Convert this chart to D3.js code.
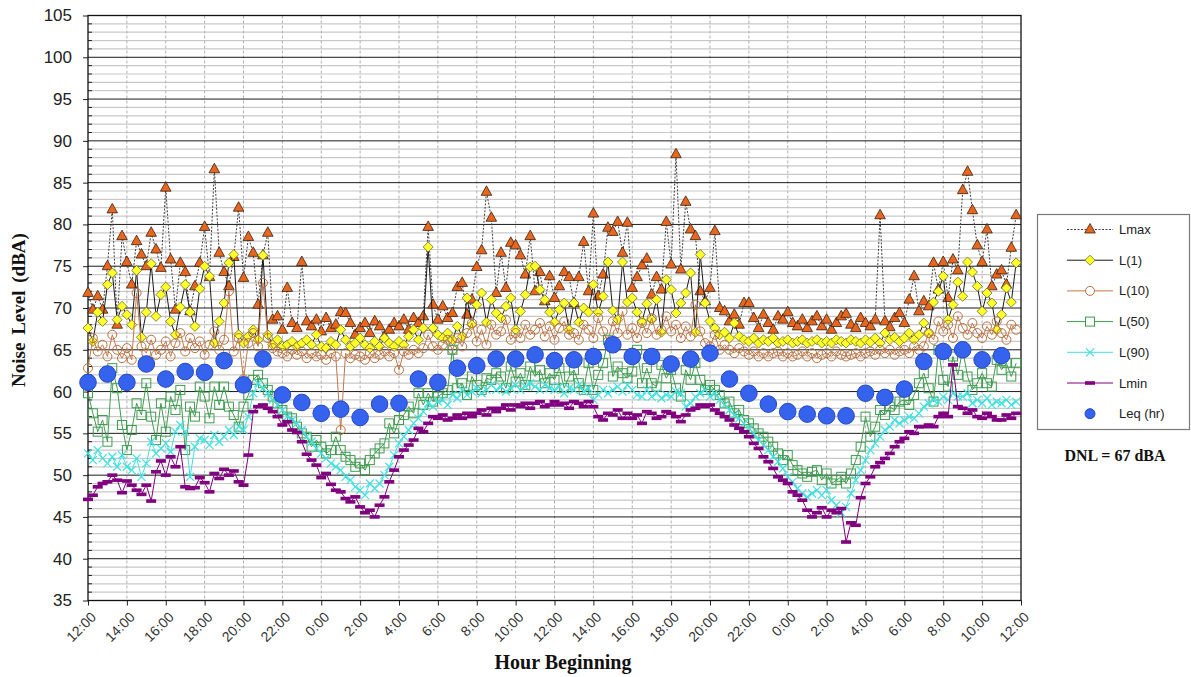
<!DOCTYPE html>
<html><head><meta charset="utf-8">
<script src="https://cdn.jsdelivr.net/npm/d3@7"></script>
<style>
body{margin:0;background:#fff;}
svg{display:block;}
</style></head><body>
<svg id="chart" width="1191" height="677"></svg>
<script>
// ---- DATA (15-minute intervals, 48 hours starting 12:00) ----
const xTickLabels = ["12:00","14:00","16:00","18:00","20:00","22:00","0:00","2:00","4:00","6:00","8:00","10:00",
  "12:00","14:00","16:00","18:00","20:00","22:00","0:00","2:00","4:00","6:00","8:00","10:00","12:00"];
const yTicks = [35,40,45,50,55,60,65,70,75,80,85,90,95,100,105];
const seriesNames = ["Lmax","L(1)","L(10)","L(50)","L(90)","Lmin","Leq (hr)"];
const dnlLabel = "DNL = 67 dBA";
const xTitle = "Hour Beginning";
const yTitle = "Noise Level (dBA)";

const lmax = [
71.8,69.8,71.4,69.8, 75.0,81.8,68.0,78.6, 75.5,72.8,78.0,76.4, 75.0,79.0,77.0,74.8,
84.4,75.8,69.8,75.4, 74.3,69.6,72.6,75.4, 79.7,73.7,86.6,76.6, 74.3,72.6,76.1,82.0,
73.6,78.5,76.6,70.4, 76.3,79.0,68.6,69.0, 67.4,72.4,68.2,67.6, 75.5,68.4,67.8,68.6,
67.2,68.8,67.6,68.0, 69.5,69.4,68.2,66.8, 67.6,68.2,67.0,68.4, 67.8,66.6,67.4,68.2,
67.8,68.6,67.4,68.8, 68.2,69.0,79.7,70.4, 68.6,70.2,68.8,69.4, 72.5,73.0,69.2,71.0,
74.9,76.9,83.9,80.8, 71.8,76.6,72.4,77.8, 77.5,76.3,74.0,78.6, 72.0,74.3,70.8,73.8,
71.2,72.6,74.3,73.7, 70.6,73.7,77.9,72.0, 81.3,71.4,74.0,79.6, 79.1,80.3,76.6,80.2,
72.4,73.7,75.1,75.9, 71.6,73.7,72.2,80.3, 75.2,88.4,74.6,82.7, 79.4,78.6,72.0,70.8,
72.4,79.2,70.0,69.6, 68.4,69.2,68.0,70.6, 70.6,68.8,67.6,69.2, 68.2,67.4,69.0,68.6,
69.5,68.2,67.8,68.6, 67.6,68.4,69.0,67.8, 68.6,67.4,68.2,69.0, 69.3,68.0,67.6,68.8,
68.2,67.8,68.6,81.1, 68.4,67.7,68.8,69.4, 68.2,71.0,73.8,69.6, 70.8,70.2,75.4,72.2,
75.5,71.2,75.8,74.5, 84.1,86.3,81.7,77.5, 75.5,79.4,72.6,74.0, 74.5,72.8,77.2,81.1];

const l1 = [
67.6,66.0,69.5,68.4, 72.8,74.2,68.6,70.2, 69.2,68.0,74.5,66.5, 69.5,75.3,69.0,71.6,
72.5,68.4,66.8,70.1, 72.8,69.5,67.8,72.3, 75.0,73.8,65.8,68.4, 70.6,75.4,76.4,66.8,
65.8,66.6,67.4,66.2, 76.3,66.8,65.6,66.2, 65.4,65.6,66.0,65.4, 65.8,66.2,65.6,66.8,
65.4,65.2,66.0,65.6, 67.4,66.2,65.4,65.8, 66.4,65.6,65.2,66.0, 65.4,66.4,65.8,65.4,
66.0,65.6,66.6,67.4, 66.2,67.6,77.3,67.6, 66.8,66.4,67.0,66.2, 67.8,66.6,71.2,68.0,
70.4,71.8,68.3,71.0, 69.4,68.8,70.2,71.2, 67.4,69.6,71.6,74.9, 75.0,72.2,71.0,69.5,
68.3,69.8,70.6,67.4, 70.6,68.3,70.0,69.5, 72.8,69.5,71.4,75.5, 69.7,68.6,75.5,70.7,
71.2,69.5,68.4,70.5, 68.6,71.0,67.1,73.4, 72.2,69.4,70.6,71.8, 74.2,67.1,76.4,70.6,
68.4,67.6,66.8,67.1, 66.4,68.2,66.6,66.2, 66.0,66.4,65.8,66.2, 66.0,66.4,65.8,66.0,
66.2,65.8,66.0,66.2, 65.8,66.0,66.2,65.8, 66.0,65.8,66.2,66.0, 65.8,66.2,66.0,65.8,
66.2,65.9,66.4,65.8, 67.0,66.2,66.5,66.0, 66.4,67.0,66.2,66.8, 68.2,67.0,70.7,72.0,
73.8,68.6,70.4,73.1, 71.4,75.5,74.3,72.6, 69.6,71.8,70.6,67.4, 69.2,72.4,70.7,75.4];

const l10 = [
62.8,66.4,64.8,65.6, 64.2,66.8,65.0,64.0, 65.2,63.8,71.8,65.4, 64.6,66.2,64.4,65.0,
66.0,64.2,65.8,67.0, 64.8,66.4,65.2,66.0, 64.4,65.6,67.2,65.0, 66.2,72.0,64.8,66.4,
61.5,65.8,67.0,65.4, 73.0,66.4,65.2,64.8, 64.6,64.2,65.0,64.4, 64.8,64.0,64.6,64.2,
64.4,63.8,64.6,64.2, 55.4,64.6,64.0,64.4, 64.2,63.8,64.6,64.0, 64.4,64.8,64.2,64.6,
62.6,64.8,64.4,65.0, 64.6,65.2,66.8,65.4, 65.0,65.6,66.2,65.0, 66.4,65.4,67.0,68.2,
66.0,67.4,65.6,68.0, 66.8,67.2,68.6,66.2, 67.0,66.4,68.0,66.8, 67.4,68.2,66.6,67.8,
66.2,67.6,68.4,66.8, 67.0,66.2,68.0,67.4, 66.4,68.8,67.2,66.0, 68.4,67.0,69.6,66.8,
67.6,66.4,68.2,67.0, 68.8,66.8,67.4,69.0, 67.2,68.0,66.4,67.8, 66.6,70.4,67.2,65.8,
65.4,66.8,65.0,65.6, 65.0,64.6,65.2,64.8, 64.4,64.8,64.2,64.6, 64.2,64.6,64.8,64.2,
64.6,64.2,64.4,64.8, 64.2,64.6,64.0,64.4, 64.6,64.2,64.8,64.4, 64.2,64.4,64.6,64.2,
64.6,64.8,64.4,65.0, 64.6,65.0,64.4,64.8, 65.0,64.6,65.4,65.0, 65.4,67.0,66.2,68.4,
67.2,68.0,66.4,69.0, 67.6,66.8,68.2,67.0, 66.4,67.8,66.8,68.4, 67.0,66.2,68.0,67.4];

const l50 = [
59.8,57.4,55.2,56.6, 54.0,62.8,60.4,56.0, 53.0,55.4,58.6,57.2, 61.0,57.0,54.2,58.6,
55.2,59.4,57.8,60.2, 53.0,58.2,57.0,60.6, 59.4,56.8,60.6,58.4, 60.6,58.2,57.2,55.8,
58.2,59.6,61.4,62.0, 61.0,60.2,59.4,58.6, 57.8,57.0,56.8,55.8, 55.0,54.6,53.4,54.2,
53.4,52.6,53.0,54.6, 53.0,52.2,51.8,51.0, 51.4,50.6,51.8,52.6, 53.2,53.8,56.2,55.0,
56.6,57.2,58.2,57.4, 59.8,58.4,59.8,58.8, 59.4,59.8,60.2,65.0, 60.4,61.0,59.6,61.8,
60.8,60.2,61.6,61.4, 62.2,61.8,60.4,63.0, 61.2,62.2,60.8,63.0, 61.8,62.6,61.0,62.2,
61.4,62.8,60.4,61.8, 62.6,61.0,60.2,63.4, 60.2,62.0,63.4,66.2, 61.8,63.0,62.2,61.6,
62.4,65.0,61.0,62.8, 61.0,60.6,63.2,61.6, 62.6,60.4,59.4,62.6, 61.4,63.4,61.4,60.2,
60.8,60.2,59.6,58.6, 58.8,57.4,57.8,56.6, 56.2,55.6,55.0,54.6, 54.0,53.4,52.6,51.8,
52.4,51.2,50.6,50.2, 49.8,50.4,50.6,49.4, 50.2,49.0,49.4,49.8, 49.0,50.2,51.8,53.4,
57.0,54.6,55.8,57.8, 57.2,58.2,57.8,58.8, 59.0,58.4,59.6,61.0, 62.2,60.4,58.8,65.0,
61.4,60.6,64.2,62.0, 65.0,61.8,60.2,61.0, 62.2,61.0,60.6,63.8, 62.6,63.4,61.8,63.4];

const l90 = [
52.6,51.8,53.0,52.0, 51.4,52.2,51.0,52.4, 51.0,50.6,52.0,49.8, 51.4,54.0,52.6,53.2,
53.8,52.8,55.2,56.0, 55.2,49.8,53.4,54.4, 54.2,53.6,54.8,54.0, 54.6,55.4,54.8,55.8,
55.4,57.0,59.8,61.0, 60.4,59.8,59.0,58.4, 57.8,57.0,56.6,56.2, 55.4,54.6,54.0,53.2,
52.6,52.0,51.4,51.0, 50.6,49.8,49.4,48.6, 48.2,47.6,49.0,48.4, 49.0,50.0,51.0,52.4,
53.8,54.6,55.4,56.2, 56.8,57.6,58.6,58.2, 58.8,59.0,58.4,59.6, 59.2,60.2,59.6,60.0,
60.4,59.8,60.2,60.8, 60.2,60.6,60.0,60.4, 60.8,60.2,60.6,61.0, 60.6,60.2,60.8,60.4,
60.2,60.6,59.8,60.4, 60.2,60.8,60.0,60.4, 59.0,59.6,60.2,59.8, 60.2,60.6,60.0,60.8,
60.2,59.6,59.4,60.2, 59.4,59.8,59.2,59.6, 59.4,60.0,59.8,58.2, 58.6,59.4,59.8,60.2,
59.4,59.8,59.0,58.4, 57.8,57.2,56.8,56.2, 55.6,55.0,54.2,53.6, 53.0,52.2,51.6,50.8,
49.8,49.2,48.4,47.8, 47.4,47.8,48.2,47.6, 48.2,47.0,46.4,45.5, 46.2,47.8,49.4,50.6,
51.8,53.0,53.8,54.6, 55.4,55.8,56.6,56.2, 56.6,57.0,56.8,57.4, 58.2,58.6,59.0,58.8,
59.4,59.0,59.8,59.4, 59.4,59.8,58.6,59.0, 58.6,59.2,58.4,58.8, 58.6,59.0,58.4,58.8];

const lmin = [
47.1,47.6,48.6,49.0, 49.2,50.0,49.4,47.9, 49.3,48.8,48.2,47.7, 48.8,46.9,50.4,51.7,
50.0,52.2,51.0,53.4, 48.6,48.4,48.5,49.7, 49.1,48.0,50.2,49.6, 50.7,50.0,50.5,49.2,
48.8,52.4,57.6,58.2, 58.4,58.0,57.6,57.0, 56.0,56.4,55.4,55.1, 54.0,52.5,51.8,51.2,
49.7,50.2,48.9,48.2, 48.0,47.2,46.8,47.4, 46.2,45.5,45.8,45.0, 46.4,47.4,49.2,50.6,
52.2,53.0,53.6,54.2, 55.6,55.2,56.2,57.0, 56.8,57.2,56.6,56.8, 57.2,56.8,57.4,57.0,
57.4,57.8,57.2,58.0, 57.6,58.0,58.4,57.8, 58.4,58.2,58.6,58.0, 58.6,58.8,58.2,58.4,
58.8,58.4,58.6,58.0, 58.8,58.6,58.2,58.8, 58.2,57.0,56.6,57.4, 57.2,57.8,56.8,57.4,
56.8,57.2,56.2,57.6, 57.4,56.8,57.0,57.6, 57.4,57.0,56.4,57.2, 57.8,58.0,58.4,58.2,
58.4,57.8,57.4,57.0, 56.6,56.0,55.6,55.2, 54.6,53.8,53.2,52.2, 51.6,50.8,49.8,49.4,
49.0,48.0,47.6,47.0, 45.8,45.0,45.5,46.1, 45.0,45.8,45.5,46.0, 42.0,44.3,44.0,47.3,
49.0,49.8,51.0,51.5, 52.0,52.6,53.4,54.0, 54.4,55.2,55.0,55.8, 55.8,56.0,55.8,57.0,
57.4,57.0,63.2,58.2, 58.0,57.4,57.8,57.0, 56.8,57.4,57.0,56.6, 56.6,57.2,56.8,57.4];

const leqHourly = [61.1,62.1,61.1,63.3,61.5,62.4,62.3,63.7,60.8,63.9,59.6,58.7,
57.4,57.9,56.9,58.5,58.6,61.5,61.1,62.8,63.1,63.9,63.9,64.4,
63.7,63.8,64.2,65.6,64.2,64.2,63.3,63.9,64.6,61.5,59.8,58.5,
57.6,57.3,57.1,57.1,59.8,59.3,60.3,63.6,64.8,65.0,63.8,64.3];

// ---- CHART ----
const svg = d3.select("#chart");
const W = 1191, H = 677;
const P = {l: 88, r: 1021, t: 15.5, b: 600.5};
const x = d3.scaleLinear().domain([0, 48]).range([P.l, P.r]);
const y = d3.scaleLinear().domain([35, 105]).range([P.b, P.t]);
const SANS = "Arial, 'Liberation Sans', sans-serif";
const SERIF = "'Times New Roman', 'Liberation Serif', serif";

svg.append("rect").attr("width", W).attr("height", H).attr("fill", "#fff");

const grid = svg.append("g");
// minor horizontal gridlines
grid.selectAll("line.minor").data(d3.range(36, 105).filter(v => v % 5 !== 0)).join("line")
  .attr("x1", P.l).attr("x2", P.r).attr("y1", d => y(d)).attr("y2", d => y(d))
  .attr("stroke", "#c9c9c9").attr("stroke-width", 1.2);
// vertical dashed gridlines
grid.selectAll("line.v").data(d3.range(2, 48, 2)).join("line")
  .attr("x1", d => x(d)).attr("x2", d => x(d)).attr("y1", P.t).attr("y2", P.b)
  .attr("stroke", "#b0b0b0").attr("stroke-width", 1).attr("stroke-dasharray", "3,2");
// major horizontal gridlines
grid.selectAll("line.major").data(yTicks.slice(1, -1)).join("line")
  .attr("x1", P.l).attr("x2", P.r).attr("y1", d => y(d)).attr("y2", d => y(d))
  .attr("stroke", "#1a1a1a").attr("stroke-width", 1);
// minor ticks inside left axis
grid.selectAll("line.mt").data(d3.range(36, 105).filter(v => v % 5 !== 0)).join("line")
  .attr("x1", P.l).attr("x2", P.l + 4).attr("y1", d => y(d)).attr("y2", d => y(d))
  .attr("stroke", "#222").attr("stroke-width", 1);

// axes
const yAxis = svg.append("g").attr("transform", `translate(${P.l},0)`)
  .call(d3.axisLeft(y).tickValues(yTicks).tickSize(5).tickPadding(11).tickFormat(d3.format("d")));
yAxis.select(".domain").remove();
yAxis.selectAll("line").attr("stroke", "#222");
yAxis.selectAll("text").attr("font-family", SANS).attr("font-size", 17).attr("fill", "#222");

const xAxis = svg.append("g").attr("transform", `translate(0,${P.b})`)
  .call(d3.axisBottom(x).tickValues(d3.range(0, 49, 2)).tickSize(5).tickFormat((d, i) => xTickLabels[i]));
xAxis.select(".domain").remove();
xAxis.selectAll("line").attr("stroke", "#222");
xAxis.selectAll("text").attr("font-family", SANS).attr("font-size", 14).attr("fill", "#333")
  .attr("text-anchor", "end").attr("y", 0).attr("dy", "0.35em")
  .attr("transform", "translate(5,14) rotate(-45)");

// frame
svg.append("rect").attr("x", P.l).attr("y", P.t).attr("width", P.r - P.l).attr("height", P.b - P.t)
  .attr("fill", "none").attr("stroke", "#111").attr("stroke-width", 1.3);

// series
const plot = svg.append("g");
const hx = i => x(i * 0.25);
const lineGen = d3.line().x((d, i) => hx(i)).y(d => y(d));

const styles = {
  lmax: {color: "#404040", dash: "2,1.5", width: 1},
  l1: {color: "#1a1a1a", width: 1},
  l10: {color: "#C0784A", width: 1},
  l50: {color: "#3E9C4E", width: 1},
  l90: {color: "#40E0E0", width: 1},
  lmin: {color: "#800080", width: 1}
};

function drawLine(data, st) {
  plot.append("path").datum(data).attr("d", lineGen).attr("fill", "none")
    .attr("stroke", st.color).attr("stroke-width", st.width)
    .attr("stroke-dasharray", st.dash || null);
}

const triPath = "M0,-6L5.3,3.5L-5.3,3.5Z";
const diaPath = "M0,-5L5,0L0,5L-5,0Z";

function markers(data, kind, g) {
  const sel = g.selectAll(null).data(data).join(kind === "circle" ? "circle" : (kind === "square" || kind === "dash") ? "rect" : "path");
  return sel;
}

// Lmax
drawLine(lmax, styles.lmax);
plot.append("g").selectAll("path").data(lmax).join("path")
  .attr("d", triPath).attr("transform", (d, i) => `translate(${hx(i)},${y(d)})`)
  .attr("fill", "#E8661E").attr("stroke", "#3a2210").attr("stroke-width", 0.8);
// L1
drawLine(l1, styles.l1);
plot.append("g").selectAll("path").data(l1).join("path")
  .attr("d", diaPath).attr("transform", (d, i) => `translate(${hx(i)},${y(d)})`)
  .attr("fill", "#FFFF2A").attr("stroke", "#6b6b2a").attr("stroke-width", 0.8);
// L10
drawLine(l10, styles.l10);
plot.append("g").selectAll("circle").data(l10).join("circle")
  .attr("cx", (d, i) => hx(i)).attr("cy", d => y(d)).attr("r", 4.5)
  .attr("fill", "none").attr("stroke", "#B8703F").attr("stroke-width", 1);
// L50
drawLine(l50, styles.l50);
plot.append("g").selectAll("rect").data(l50).join("rect")
  .attr("x", (d, i) => hx(i) - 4.5).attr("y", d => y(d) - 4.5).attr("width", 9).attr("height", 9)
  .attr("fill", "none").attr("stroke", "#3E9C4E").attr("stroke-width", 1);
// L90
drawLine(l90, styles.l90);
plot.append("g").selectAll("path").data(l90).join("path")
  .attr("d", "M-4,-4L4,4M-4,4L4,-4").attr("transform", (d, i) => `translate(${hx(i)},${y(d)})`)
  .attr("fill", "none").attr("stroke", "#40E0E0").attr("stroke-width", 1.2);
// Lmin
drawLine(lmin, styles.lmin);
plot.append("g").selectAll("rect").data(lmin).join("rect")
  .attr("x", (d, i) => hx(i) - 5).attr("y", d => y(d) - 1.8).attr("width", 10).attr("height", 3.6)
  .attr("fill", "#800080");
// Leq
plot.append("g").selectAll("circle").data(leqHourly).join("circle")
  .attr("cx", (d, i) => x(i)).attr("cy", d => y(d)).attr("r", 8.3)
  .attr("fill", "#3563EE").attr("stroke", "#2447C4").attr("stroke-width", 1);

// titles
svg.append("text").attr("x", 563).attr("y", 669).attr("text-anchor", "middle")
  .attr("font-family", SERIF).attr("font-weight", "bold").attr("font-size", 20).attr("fill", "#111")
  .text(xTitle);
svg.append("text").attr("transform", "translate(25,310) rotate(-90)").attr("text-anchor", "middle")
  .attr("font-family", SERIF).attr("font-weight", "bold").attr("font-size", 19).attr("fill", "#111")
  .attr("word-spacing", 3)
  .text(yTitle);

// legend
const lg = svg.append("g");
lg.append("rect").attr("x", 1037.5).attr("y", 214.5).attr("width", 152).attr("height", 215)
  .attr("fill", "#fff").attr("stroke", "#7a7a7a").attr("stroke-width", 1.2);
const ly = i => 229.5 + i * 30.7;
const lx1 = 1067, lx2 = 1113, lm = 1090;
const legendStyles = [
  {c: "#404040", dash: "2,1.5"}, {c: "#1a1a1a"}, {c: "#C0784A"}, {c: "#3E9C4E"},
  {c: "#40E0E0"}, {c: "#800080"}, null
];
seriesNames.forEach((name, i) => {
  const st = legendStyles[i];
  if (st) lg.append("line").attr("x1", lx1).attr("x2", lx2).attr("y1", ly(i)).attr("y2", ly(i))
    .attr("stroke", st.c).attr("stroke-width", 1).attr("stroke-dasharray", st.dash || null);
  const t = `translate(${lm},${ly(i)})`;
  if (i === 0) lg.append("path").attr("d", triPath).attr("transform", t).attr("fill", "#E8661E").attr("stroke", "#3a2210").attr("stroke-width", 0.8);
  if (i === 1) lg.append("path").attr("d", diaPath).attr("transform", t).attr("fill", "#FFFF2A").attr("stroke", "#6b6b2a").attr("stroke-width", 0.8);
  if (i === 2) lg.append("circle").attr("cx", lm).attr("cy", ly(i)).attr("r", 4.5).attr("fill", "#fff").attr("stroke", "#B8703F");
  if (i === 3) lg.append("rect").attr("x", lm - 4.5).attr("y", ly(i) - 4.5).attr("width", 9).attr("height", 9).attr("fill", "#fff").attr("stroke", "#3E9C4E");
  if (i === 4) lg.append("path").attr("d", "M-4,-4L4,4M-4,4L4,-4").attr("transform", t).attr("stroke", "#40E0E0").attr("stroke-width", 1.2);
  if (i === 5) lg.append("rect").attr("x", lm - 5).attr("y", ly(i) - 1.8).attr("width", 10).attr("height", 3.6).attr("fill", "#800080");
  if (i === 6) lg.append("circle").attr("cx", lm).attr("cy", ly(i)).attr("r", 5).attr("fill", "#3563EE").attr("stroke", "#2447C4");
  lg.append("text").attr("x", 1119).attr("y", ly(i)).attr("dy", "0.35em")
    .attr("font-family", SANS).attr("font-size", 13).attr("fill", "#222").text(name);
});

svg.append("text").attr("x", 1115).attr("y", 461).attr("text-anchor", "middle")
  .attr("font-family", SERIF).attr("font-weight", "bold").attr("font-size", 16).attr("fill", "#111")
  .text(dnlLabel);
</script>
</body></html>
